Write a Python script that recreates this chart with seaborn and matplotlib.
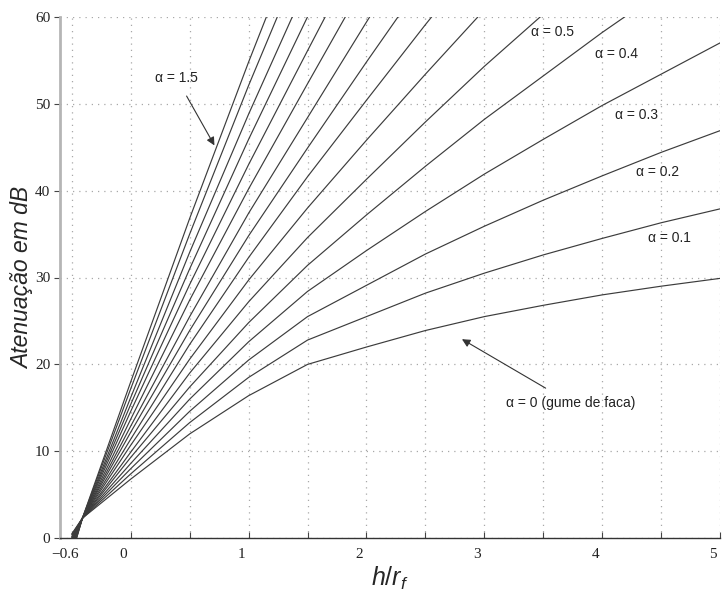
"""
Atenuação por obstáculo arredondado em função de h/r_f, para vários valores de alpha
"""
import numpy as np
import pandas as pd
import matplotlib
matplotlib.use("Agg")
import matplotlib.pyplot as plt
import seaborn as sns

# pontos em h/r_f
h_rf = [-0.5, -0.41, 0.0, 0.5, 1.0, 1.5, 2.0, 2.5, 3.0, 3.5, 4.0, 4.5, 5.0]

# atenuação em dB para cada alpha (curvas que saem do topo terminam no 1o ponto > 60)
atten = {
    0.0: [0.5, 2.3, 6.8, 12.0, 16.4, 20.0, 22.0, 23.9, 25.5, 26.8, 28.0, 29.0, 29.9],
    0.1: [0.4, 2.3, 7.4, 13.3, 18.5, 22.8, 25.5, 28.2, 30.5, 32.6, 34.5, 36.3, 37.9],
    0.2: [0.2, 2.3, 8.0, 14.6, 20.5, 25.5, 29.1, 32.7, 35.9, 38.9, 41.7, 44.4, 46.9],
    0.3: [0.1, 2.3, 8.6, 16.0, 22.6, 28.4, 33.1, 37.6, 41.9, 45.9, 49.8, 53.4, 57.0],
    0.4: [0.0, 2.3, 9.3, 17.4, 24.8, 31.4, 37.2, 42.8, 48.2, 53.2, 58.2, 62.9],
    0.5: [-0.2, 2.3, 9.9, 19.0, 27.2, 34.6, 41.3, 47.9, 54.3, 60.3],
    0.6: [-0.35, 2.3, 10.7, 20.6, 29.7, 38.0, 45.8, 53.4, 60.8],
    0.7: [-0.5, 2.3, 11.4, 22.3, 32.3, 41.6, 50.4, 59.1, 67.5],
    0.8: [-0.7, 2.3, 12.2, 23.9, 34.8, 44.9, 54.8, 64.5],
    0.9: [-0.8, 2.3, 12.9, 25.5, 37.4, 48.4, 59.4, 70.2],
    1.0: [-1.0, 2.3, 13.7, 27.4, 40.2, 52.3, 64.3],
    1.1: [-1.2, 2.3, 14.6, 29.2, 43.0, 56.1, 69.1],
    1.2: [-1.4, 2.3, 15.4, 31.0, 45.9, 60.0, 74.0],
    1.3: [-1.6, 2.3, 16.2, 32.9, 48.8, 63.9],
    1.4: [-1.8, 2.3, 17.2, 35.0, 52.1, 68.3],
    1.5: [-1.9, 2.3, 18.0, 36.8, 54.8, 72.0],
}

# marcas/grade do eixo x e rótulos (os rótulos ficam um pouco à esquerda, como no original)
x_grid = [-0.5, 0, 0.5, 1, 1.5, 2, 2.5, 3, 3.5, 4, 4.5, 5]
x_label_pos = [-0.56, -0.06, 0.94, 1.94, 2.94, 3.94, 4.94]
x_ticklabels = ["\u22120.6", "0", "1", "2", "3", "4", "5"]
y_ticks = [0, 10, 20, 30, 40, 50, 60]

# rótulos (texto, posição do texto, ponta da seta ou None)
labels = [
    ("\u03b1 = 1.5", (0.39, 52.9), (0.71, 45.2)),
    ("\u03b1 = 0.5", (3.58, 58.2), None),
    ("\u03b1 = 0.4", (4.12, 55.7), None),
    ("\u03b1 = 0.3", (4.29, 48.7), None),
    ("\u03b1 = 0.2", (4.47, 42.1), None),
    ("\u03b1 = 0.1", (4.57, 34.6), None),
    ("\u03b1 = 0 (gume de faca)", (3.73, 15.6), (2.81, 22.9)),
]

# tabela longa para o seaborn
rows = []
for a, vals in atten.items():
    for xv, yv in zip(h_rf, vals):
        rows.append({"alpha": a, "h_rf": xv, "A": yv})
df = pd.DataFrame(rows)

sns.set_theme(style="white")
plt.rcParams["font.family"] = ["Liberation Sans", "DejaVu Sans"]
plt.rcParams["mathtext.fontset"] = "custom"
plt.rcParams["mathtext.it"] = "Liberation Sans:italic"
plt.rcParams["mathtext.rm"] = "Liberation Sans"

fig = plt.figure(figsize=(7.23, 6.0), dpi=100)
ax = fig.add_axes([0.083, 0.103, 0.913, 0.869])

sns.lineplot(data=df, x="h_rf", y="A", units="alpha", estimator=None,
             color="#3c3c3c", linewidth=0.85, sort=False, ax=ax, legend=False)

ax.set_xlim(-0.6, 5)
ax.set_ylim(0, 60)
ax.set_xticks(x_label_pos)
ax.set_xticklabels(x_ticklabels)
ax.set_xticks(x_grid, minor=True)
ax.set_yticks(y_ticks)

serif = ["Liberation Serif", "DejaVu Serif"]
for lab in ax.get_xticklabels() + ax.get_yticklabels():
    lab.set_family(serif)
    lab.set_fontsize(11)
    lab.set_color("#222222")

ax.tick_params(axis="x", which="major", length=0, pad=7)
ax.tick_params(axis="x", which="minor", direction="in", length=4, width=0.8,
               color="#444444", bottom=True)
ax.tick_params(axis="y", direction="out", length=4, width=0.8, color="#444444",
               pad=3, left=True)

ax.xaxis.grid(True, which="minor", linestyle=(0, (1, 4)), color="#a8a8a8", linewidth=0.9)
ax.xaxis.grid(False, which="major")
ax.yaxis.grid(True, linestyle=(0, (1, 4)), color="#a8a8a8", linewidth=0.9)
for side in ["top", "right"]:
    ax.spines[side].set_visible(False)
ax.spines["left"].set_color("#b5b5b5")
ax.spines["left"].set_linewidth(2.0)
ax.spines["bottom"].set_color("#333333")
ax.spines["bottom"].set_linewidth(1.0)

ax.set_xlabel("$h/r_f$", fontsize=18, labelpad=3)
ax.set_ylabel("Atenuação em dB", fontsize=16.5, style="italic")
ax.yaxis.set_label_coords(-0.039, 0.5)

for txt, pos, tip in labels:
    if tip is None:
        ax.text(pos[0], pos[1], txt, ha="center", va="center", fontsize=10, color="#222222")
    else:
        ax.annotate(txt, xy=tip, xytext=pos, ha="center", va="center", fontsize=10,
                    color="#222222",
                    arrowprops=dict(arrowstyle="-|>", color="#333333", lw=0.8,
                                    mutation_scale=12, shrinkA=6, shrinkB=0))

fig.savefig("out.png", dpi=100)
